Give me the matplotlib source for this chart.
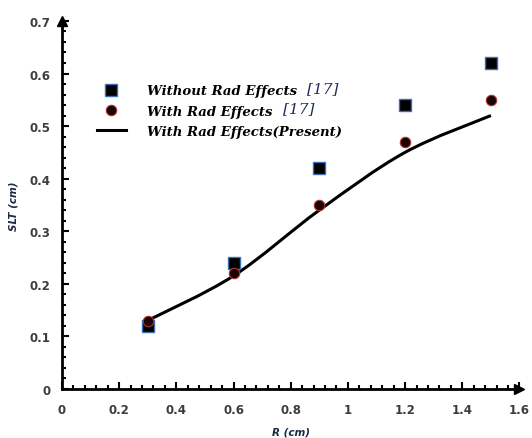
import matplotlib
matplotlib.use("Agg")
import matplotlib.pyplot as plt
from matplotlib.path import Path
from matplotlib.patches import PathPatch
from matplotlib.ticker import MultipleLocator

# data
r_vals = [0.3, 0.6, 0.9, 1.2, 1.5]
slt_without_rad = [0.12, 0.24, 0.42, 0.54, 0.62]
slt_with_rad = [0.13, 0.22, 0.35, 0.47, 0.55]
slt_present = [0.13, 0.215, 0.34, 0.45, 0.52]

x_ticks = [0, 0.2, 0.4, 0.6, 0.8, 1, 1.2, 1.4, 1.6]
x_tick_labels = ["0", "0.2", "0.4", "0.6", "0.8", "1", "1.2", "1.4", "1.6"]
y_ticks = [0, 0.1, 0.2, 0.3, 0.4, 0.5, 0.6, 0.7]
y_tick_labels = ["0", "0.1", "0.2", "0.3", "0.4", "0.5", "0.6", "0.7"]

tick_color = "#3d3d3d"
label_color = "#1f2a44"

fig = plt.figure(figsize=(5.32, 4.39), dpi=100)
ax = fig.add_axes([0.1165, 0.112, 0.86, 0.838])

# smooth line (Catmull-Rom as cubic Bezier through the points)
pts = list(zip(r_vals, slt_present))
verts = [pts[0]]
codes = [Path.MOVETO]
for i in range(len(pts) - 1):
    p0 = pts[i - 1] if i > 0 else pts[i]
    p1 = pts[i]
    p2 = pts[i + 1]
    p3 = pts[i + 2] if i + 2 < len(pts) else pts[i + 1]
    c1 = (p1[0] + (p2[0] - p0[0]) / 6, p1[1] + (p2[1] - p0[1]) / 6)
    c2 = (p2[0] - (p3[0] - p1[0]) / 6, p2[1] - (p3[1] - p1[1]) / 6)
    verts += [c1, c2, p2]
    codes += [Path.CURVE4] * 3
ax.add_patch(PathPatch(Path(verts, codes), facecolor="none", edgecolor="black", lw=2.2))

# legend proxy for the line
ax.plot([], [], color="black", lw=2.2, label="With Rad Effects(Present)")

ax.plot(r_vals, slt_without_rad, ls="none", marker="s", ms=8, mfc="black",
        mec="#3b6fb6", mew=1.0, label="Without Rad Effects", zorder=3)
ax.plot(r_vals, slt_with_rad, ls="none", marker="o", ms=7.5, mfc="#1a0505",
        mec="#b03030", mew=0.8, label="With Rad Effects", zorder=3)

ax.set_xlim(0, 1.6)
ax.set_ylim(0, 0.7)
ax.set_xticks(x_ticks)
ax.set_xticklabels(x_tick_labels)
ax.set_yticks(y_ticks)
ax.set_yticklabels(y_tick_labels)
ax.xaxis.set_minor_locator(MultipleLocator(0.04))
ax.yaxis.set_minor_locator(MultipleLocator(0.02))

ax.tick_params(which="both", direction="in", color="black", width=1.5)
ax.tick_params(which="major", length=5)
ax.tick_params(which="minor", length=3)
ax.tick_params(axis="x", which="both", pad=10)
ax.tick_params(axis="y", which="both", pad=8)
for lab in ax.get_xticklabels() + ax.get_yticklabels():
    lab.set_fontweight("bold")
    lab.set_fontsize(8.5)
    lab.set_color(tick_color)
    lab.set_family("DejaVu Sans")

for s in ["top", "right"]:
    ax.spines[s].set_visible(False)
for s in ["left", "bottom"]:
    ax.spines[s].set_linewidth(2)
    ax.spines[s].set_color("black")

# arrow heads
ax.plot(1, 0, ">", ms=7, color="black", transform=ax.transAxes, clip_on=False)
ax.plot(0, 1, "^", ms=7, color="black", transform=ax.transAxes, clip_on=False)

ax.set_xlabel("R (cm)", fontsize=7.5, fontweight="bold", style="italic", color=label_color, labelpad=8)
ax.set_ylabel("SLT (cm)", fontsize=7.5, fontweight="bold", style="italic", color=label_color, labelpad=8)

handles, labels = ax.get_legend_handles_labels()
order = [1, 2, 0]
leg = ax.legend([handles[i] for i in order], [labels[i] for i in order],
                loc="upper left", bbox_to_anchor=(0.05, 0.86), frameon=False,
                handlelength=2.2, handletextpad=1.6, labelspacing=0.55,
                prop={"family": "DejaVu Serif", "weight": "bold", "style": "italic", "size": 9.5})

ax.text(0.535, 0.818, "[17]", transform=ax.transAxes, fontsize=11, style="italic",
        color="#1c2a5a", family="DejaVu Serif", va="center")
ax.text(0.483, 0.762, "[17]", transform=ax.transAxes, fontsize=11, style="italic",
        color="#1c2a5a", family="DejaVu Serif", va="center")

fig.savefig("out.png", dpi=100)
